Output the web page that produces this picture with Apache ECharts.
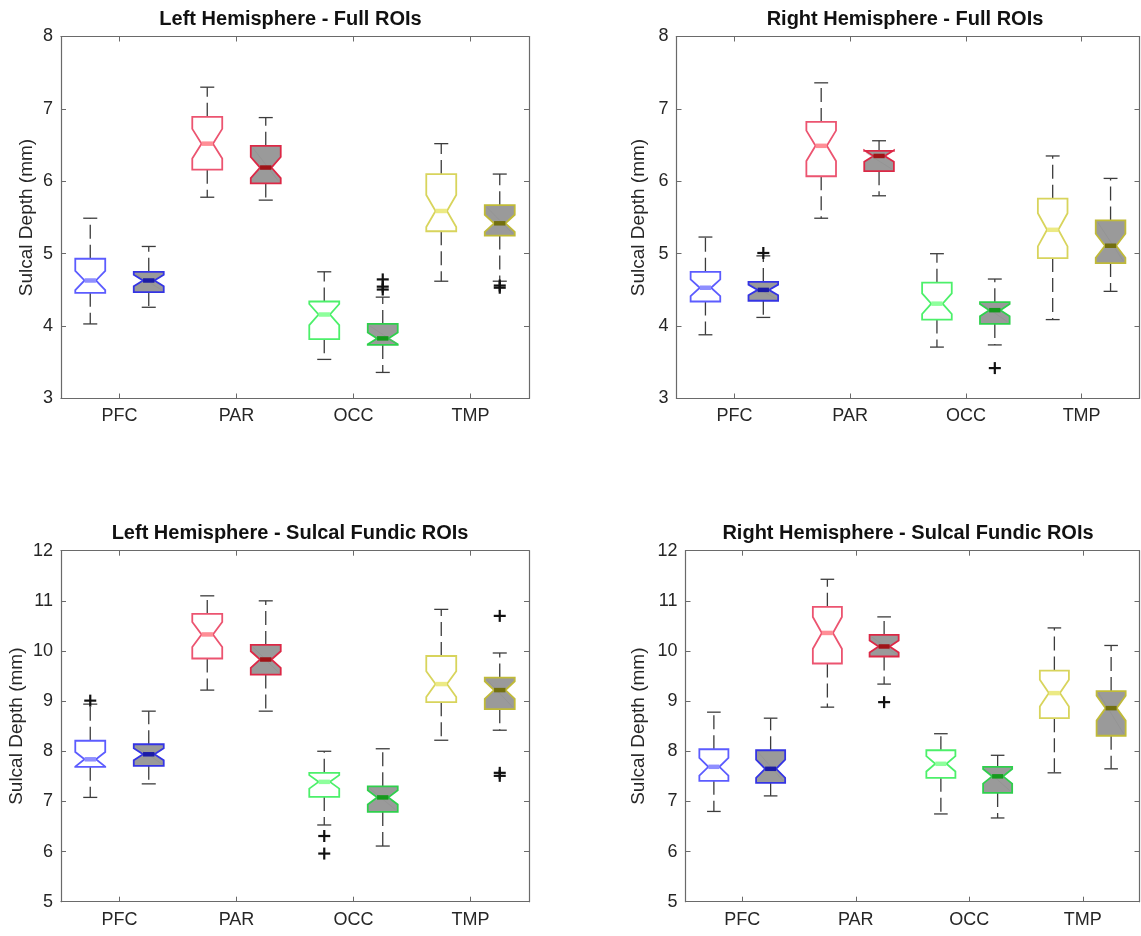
<!DOCTYPE html>
<html><head><meta charset="utf-8">
<script src="https://cdn.jsdelivr.net/npm/echarts@6/dist/echarts.min.js"></script>
<style>html,body{margin:0;padding:0;background:#fff}#c{width:1141px;height:936px}</style>
</head><body><div id="c"></div>
<script>
// ---------------- data ----------------
const categories = ['PFC', 'PAR', 'OCC', 'TMP'];
const panelTitles = ['Left Hemisphere - Full ROIs', 'Right Hemisphere - Full ROIs',
  'Left Hemisphere - Sulcal Fundic ROIs', 'Right Hemisphere - Sulcal Fundic ROIs'];
const yLabel = 'Sulcal Depth (mm)';
const fullTicks = [3, 8];      // [min, max] of the Full ROI panels
const fundicTicks = [5, 12];   // [min, max] of the Sulcal Fundic panels

// each box: [lower whisker, Q1, median, Q3, upper whisker]
const lfWhite = [[4.03, 4.46, 4.63, 4.93, 5.49], [5.78, 6.16, 6.52, 6.89, 7.30], [3.54, 3.82, 4.16, 4.34, 4.75], [4.62, 5.31, 5.59, 6.10, 6.52]];
const lfGray  = [[4.26, 4.47, 4.63, 4.75, 5.10], [5.74, 5.97, 6.19, 6.49, 6.88], [3.36, 3.74, 3.83, 4.03, 4.40], [4.62, 5.25, 5.42, 5.67, 6.10]];
const lfWhiteOut = [];
const lfGrayOut  = [[2, 4.645], [2, 4.545], [2, 4.505], [3, 4.56], [3, 4.53]];

const rfWhite = [[3.88, 4.34, 4.53, 4.75, 5.23], [5.49, 6.07, 6.49, 6.82, 7.36], [3.71, 4.09, 4.31, 4.60, 5.00], [4.09, 4.94, 5.33, 5.76, 6.35]];
const rfGray  = [[4.12, 4.35, 4.50, 4.61, 4.97], [5.80, 6.14, 6.35, 6.42, 6.56], [3.74, 4.03, 4.22, 4.33, 4.65], [4.48, 4.87, 5.11, 5.46, 6.04]];
const rfWhiteOut = [];
const rfGrayOut  = [[0, 5.01], [2, 3.42]];

const lsWhite = [[7.08, 7.69, 7.84, 8.21, 8.94], [9.22, 9.85, 10.33, 10.74, 11.10], [6.53, 7.09, 7.39, 7.57, 8.00], [8.22, 8.98, 9.34, 9.90, 10.83]];
const lsGray  = [[7.35, 7.71, 7.94, 8.14, 8.80], [8.80, 9.53, 9.83, 10.12, 11.00], [6.11, 6.79, 7.08, 7.30, 8.05], [8.42, 8.84, 9.22, 9.47, 9.96]];
const lsWhiteOut = [[0, 9.01], [2, 6.31], [2, 5.96]];
const lsGrayOut  = [[3, 10.70], [3, 7.57], [3, 7.51]];

const rsWhite = [[6.80, 7.41, 7.69, 8.04, 8.78], [8.88, 9.75, 10.36, 10.88, 11.43], [6.75, 7.47, 7.75, 8.02, 8.35], [7.57, 8.66, 9.16, 9.61, 10.46]];
const rsGray  = [[7.11, 7.37, 7.65, 8.02, 8.66], [9.34, 9.89, 10.09, 10.32, 10.68], [6.67, 7.17, 7.50, 7.69, 7.92], [7.65, 8.31, 8.86, 9.20, 10.11]];
const rsWhiteOut = [];
const rsGrayOut  = [[1, 8.98]];

// ---------------- style ----------------
const FONT = 'Liberation Sans, Arial, sans-serif';
const TXT = '#262626';
const AXC = '#6a6a6a';
const WHISK = '#3c3c3c';
const BOX_W = 0.256, CAP_W = 0.12, INDENT = 0.31, NOTCH_K = 0.28, OFFSET = 0.25;
const whiteStyle = {
  offset: -OFFSET, fill: '#ffffff',
  edge: ['#5c5cff', '#ec5470', '#4cf06a', '#d8d45c'],
  median: ['#8e8eff', '#ff8e96', '#8eff9c', '#ecea84']
};
const grayStyle = {
  offset: OFFSET, fill: '#9a9a9a',
  edge: ['#3434e4', '#dc2846', '#2ed04c', '#c0ba38'],
  median: ['#1c1ca6', '#a01418', '#169a1e', '#737010']
};

const panels = [
  { white: lfWhite, gray: lfGray, wOut: lfWhiteOut, gOut: lfGrayOut, range: fullTicks,
    grid: { left: 61, right: 612, top: 36.5, bottom: 537.5 }, titleX: 290.5, titleY: 9, nameGap: 25 },
  { white: rfWhite, gray: rfGray, wOut: rfWhiteOut, gOut: rfGrayOut, range: fullTicks,
    grid: { left: 676.5, right: 1.5, top: 36.5, bottom: 537.5 }, titleX: 905, titleY: 9, nameGap: 28 },
  { white: lsWhite, gray: lsGray, wOut: lsWhiteOut, gOut: lsGrayOut, range: fundicTicks,
    grid: { left: 61, right: 612, top: 550.7, bottom: 34.3 }, titleX: 290, titleY: 523, nameGap: 35 },
  { white: rsWhite, gray: rsGray, wOut: rsWhiteOut, gOut: rsGrayOut, range: fundicTicks,
    grid: { left: 685.5, right: 1.5, top: 550.7, bottom: 34.3 }, titleX: 908, titleY: 523, nameGap: 37 }
];

function boxRender(st) {
  return function (params, api) {
    const cat = api.value(0);
    const low = api.value(1), q1 = api.value(2), med = api.value(3), q3 = api.value(4), high = api.value(5);
    const band = api.size([1, 0])[0];
    const cx = api.coord([cat, med])[0] + st.offset * band;
    const w = BOX_W * band, L = cx - w / 2, R = cx + w / 2, ind = w * INDENT;
    const Y = v => api.coord([cat, v])[1];
    const nt = NOTCH_K * (q3 - q1);
    const yq1 = Y(q1), yq3 = Y(q3), ym = Y(med), ynh = Y(med + nt), ynl = Y(med - nt);
    const ylo = Y(low), yhi = Y(high);
    const ch = CAP_W * band / 2;
    const wl = { stroke: WHISK, lineWidth: 1.3, lineDash: [14, 6] };
    const children = [
      { type: 'line', shape: { x1: cx, y1: yq3, x2: cx, y2: yhi }, style: wl },
      { type: 'line', shape: { x1: cx, y1: yq1, x2: cx, y2: ylo }, style: wl },
      { type: 'line', shape: { x1: cx - ch, y1: yhi, x2: cx + ch, y2: yhi }, style: { stroke: WHISK, lineWidth: 1.3 } },
      { type: 'line', shape: { x1: cx - ch, y1: ylo, x2: cx + ch, y2: ylo }, style: { stroke: WHISK, lineWidth: 1.3 } },
      { type: 'polygon', shape: { points: [[L, yq3], [R, yq3], [R, ynh], [R - ind, ym], [R, ynl], [R, yq1], [L, yq1], [L, ynl], [L + ind, ym], [L, ynh]] },
        style: { fill: st.fill, stroke: st.edge[cat], lineWidth: 1.8, lineJoin: 'miter' } }
    ];
    if (st.fill !== '#ffffff') {
      children.push({ type: 'line', shape: { x1: L + 2, y1: yq3 + 2, x2: R - 2, y2: yq1 - 2 }, style: { stroke: '#8c8c8c', lineWidth: 0.7, opacity: 0.6 } });
    }
    children.push({ type: 'line', shape: { x1: L + ind, y1: ym, x2: R - ind, y2: ym }, style: { stroke: st.median[cat], lineWidth: 4.5 } });
    return { type: 'group', children };
  };
}
function outRender(st) {
  return function (params, api) {
    const cat = api.value(0);
    const band = api.size([1, 0])[0];
    const p = api.coord([cat, api.value(1)]);
    const x = p[0] + st.offset * band, y = p[1], h = 6;
    const s = { stroke: '#111', lineWidth: 2.2 };
    return { type: 'group', children: [
      { type: 'line', shape: { x1: x - h, y1: y, x2: x + h, y2: y }, style: s },
      { type: 'line', shape: { x1: x, y1: y - h, x2: x, y2: y + h }, style: s }
    ] };
  };
}

const grids = [], xAxes = [], yAxes = [], series = [], titles = [];
panels.forEach((p, i) => {
  grids.push(Object.assign({ containLabel: false }, p.grid));
  titles.push({ text: panelTitles[i], left: p.titleX, top: p.titleY, textAlign: 'center', padding: 0,
    textStyle: { fontFamily: FONT, fontSize: 20, fontWeight: 'bold', color: '#111' } });
  const tick = { show: true, inside: true, length: 5, alignWithLabel: true, lineStyle: { color: AXC, width: 1 } };
  const line = { show: true, onZero: false, lineStyle: { color: AXC, width: 1.2 } };
  xAxes.push({ type: 'category', gridIndex: i, data: categories, boundaryGap: true, position: 'bottom',
    axisLine: line, axisTick: tick, splitLine: { show: false },
    axisLabel: { fontFamily: FONT, fontSize: 18, color: TXT, margin: 9 } });
  xAxes.push({ type: 'category', gridIndex: i, data: categories, boundaryGap: true, position: 'top',
    axisLine: line, axisTick: tick, axisLabel: { show: false }, splitLine: { show: false } });
  const ytick = { show: true, inside: true, length: 5, lineStyle: { color: AXC, width: 1 } };
  yAxes.push({ type: 'value', gridIndex: i, min: p.range[0], max: p.range[1], interval: 1, position: 'left',
    axisLine: line, axisTick: ytick, splitLine: { show: false },
    axisLabel: { fontFamily: FONT, fontSize: 18, color: TXT, margin: 8 },
    name: yLabel, nameLocation: 'middle', nameGap: p.nameGap,
    nameTextStyle: { fontFamily: FONT, fontSize: 19, color: TXT } });
  yAxes.push({ type: 'value', gridIndex: i, min: p.range[0], max: p.range[1], interval: 1, position: 'right',
    axisLine: line, axisTick: ytick, axisLabel: { show: false }, splitLine: { show: false } });
  const ax = { xAxisIndex: 2 * i, yAxisIndex: 2 * i };
  [[p.white, whiteStyle], [p.gray, grayStyle]].forEach(([d, st]) => {
    series.push(Object.assign({ type: 'custom', renderItem: boxRender(st), encode: { x: 0, y: [1, 2, 3, 4, 5] },
      data: d.map((b, k) => [k].concat(b)), silent: true, animation: false }, ax));
  });
  [[p.wOut, whiteStyle], [p.gOut, grayStyle]].forEach(([d, st]) => {
    series.push(Object.assign({ type: 'custom', renderItem: outRender(st), encode: { x: 0, y: 1 },
      data: d, silent: true, animation: false }, ax));
  });
});

const chart = echarts.init(document.getElementById('c'), null, { renderer: 'canvas' });
chart.setOption({ backgroundColor: '#ffffff', animation: false, title: titles, grid: grids,
  xAxis: xAxes, yAxis: yAxes, series: series, tooltip: { show: false } });
</script></body></html>
